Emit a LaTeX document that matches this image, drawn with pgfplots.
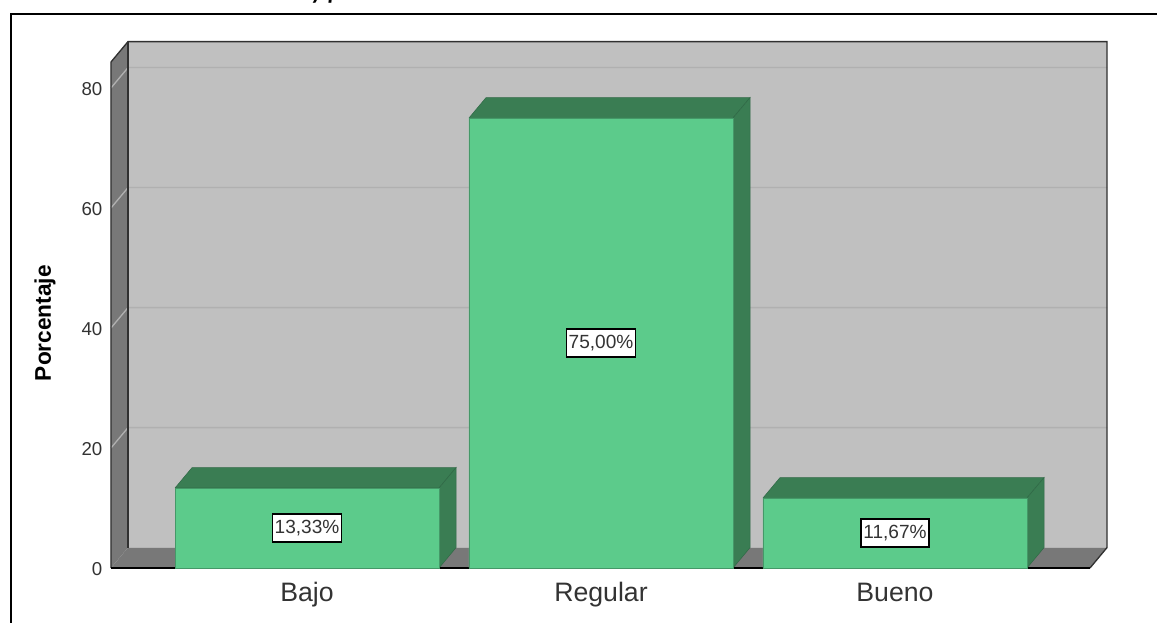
\documentclass[border=0pt]{standalone}
\usepackage{fontspec}
\setmainfont{Liberation Sans}
\newfontfamily\titlefont{Carlito}
\usepackage{pgfplots}
\pgfplotsset{compat=1.18}
\definecolor{wallc}{HTML}{C0C0C0}
\definecolor{sidec}{HTML}{787878}
\definecolor{gridc}{HTML}{B0B0B0}
\definecolor{framec}{HTML}{303030}
\definecolor{barfront}{HTML}{5CCB8B}
\definecolor{bardark}{HTML}{3A7D53}
\definecolor{labeltext}{HTML}{333333}
\begin{document}
\begin{tikzpicture}
% page is 1157x623 px at 0.75pt per px
\useasboundingbox (-83.25pt,-41.25pt) rectangle (784.5pt,426pt);
\draw[black,line width=1.6pt] (-75pt,-41.25pt) -- (-75pt,415.5pt) -- (784.5pt,415.5pt);
\node[anchor=base,font=\titlefont\bfseries\itshape\fontsize{18}{18}\selectfont,inner sep=0pt] at (161.5pt,426.5pt) {y p};
\begin{axis}[
  scale only axis, width=734.25pt, height=379.5pt,
  clip=false,
  xmin=-0.6667, xmax=2.6633, ymin=0, ymax=84.33,
  axis line style={draw=none}, tick style={draw=none},
  xtick={0,1,2}, xticklabels={Bajo,Regular,Bueno},
  ytick={0,20,40,60,80},
  /pgf/number format/assume math mode=true,
  xticklabel style={font=\fontsize{20}{22}\selectfont,text=labeltext,yshift=-6.8pt,text height=15pt,text depth=4pt},
  yticklabel style={font=\fontsize{14}{16}\selectfont,text=labeltext,xshift=-3pt,yshift=-0.8pt},
  ylabel={Porcentaje},
  y label style={at={(axis description cs:-0.0675,0.484)},anchor=center,
    font=\bfseries\fontsize{17}{19}\selectfont,text=black},
]
% back wall, side wall, floor
\addplot[fill=wallc,draw=none] coordinates {(-0.6088,3.4) (2.7211,3.4) (2.7211,87.73) (-0.6088,87.73) (-0.6088,3.4)};
\addplot[fill=sidec,draw=none] coordinates {(-0.6667,0) (-0.6088,3.4) (-0.6088,87.73) (-0.6667,84.33) (-0.6667,0)};
\addplot[fill=sidec,draw=none] coordinates {(-0.6667,0) (2.6633,0) (2.7211,3.4) (-0.6088,3.4) (-0.6667,0)};
% grid lines
\addplot[gridc,line width=1pt] coordinates {(-0.6667,20) (-0.6088,23.4) (2.7211,23.4)};
\addplot[gridc,line width=1pt] coordinates {(-0.6667,40) (-0.6088,43.4) (2.7211,43.4)};
\addplot[gridc,line width=1pt] coordinates {(-0.6667,60) (-0.6088,63.4) (2.7211,63.4)};
\addplot[gridc,line width=1pt] coordinates {(-0.6667,80) (-0.6088,83.4) (2.7211,83.4)};
% frame lines
\addplot[framec,line width=1pt] coordinates {(-0.6667,0) (-0.6667,84.33) (-0.6088,87.73) (2.7211,87.73) (2.7211,3.4) (2.6633,0)};
\addplot[framec,line width=1.6pt] coordinates {(-0.6088,87.73) (-0.6088,3.4)};
\addplot[black,line width=1.2pt] coordinates {(-0.6667,0) (2.6633,0)};
% bars: top and side faces
\addplot[fill=bardark,draw=bardark!85!black,line width=0.4pt] coordinates {(-0.449,13.33) (0.449,13.33) (0.507,16.73) (-0.391,16.73) (-0.449,13.33)};
\addplot[fill=bardark,draw=bardark!85!black,line width=0.4pt] coordinates {(0.449,0) (0.449,13.33) (0.507,16.73) (0.507,3.4) (0.449,0)};
\addplot[fill=bardark,draw=bardark!85!black,line width=0.4pt] coordinates {(0.551,75) (1.449,75) (1.507,78.4) (0.609,78.4) (0.551,75)};
\addplot[fill=bardark,draw=bardark!85!black,line width=0.4pt] coordinates {(1.449,0) (1.449,75) (1.507,78.4) (1.507,3.4) (1.449,0)};
\addplot[fill=bardark,draw=bardark!85!black,line width=0.4pt] coordinates {(1.551,11.67) (2.449,11.67) (2.507,15.07) (1.609,15.07) (1.551,11.67)};
\addplot[fill=bardark,draw=bardark!85!black,line width=0.4pt] coordinates {(2.449,0) (2.449,11.67) (2.507,15.07) (2.507,3.4) (2.449,0)};
% bars: front
\addplot[ybar,bar width=0.898,bar shift=0pt,fill=barfront,draw=barfront!75!black,line width=0.4pt]
  coordinates {(0,13.33) (1,75) (2,11.67)};
% value labels
\addplot[draw=none,nodes near coords,point meta=explicit symbolic,
  every node near coord/.append style={anchor=center,fill=white,draw=black,line width=0.8pt,
    font=\fontsize{14.3}{16}\selectfont,text=labeltext,inner xsep=1.8pt,inner ysep=0pt,minimum height=21pt}]
  coordinates {(0,6.665) [13,33\%] (1,37.5) [75,00\%] (2,5.835) [11,67\%]};
\end{axis}
\end{tikzpicture}
\end{document}
